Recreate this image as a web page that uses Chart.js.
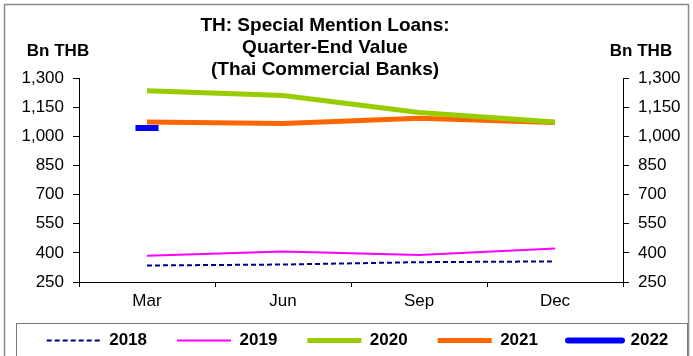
<!DOCTYPE html>
<html>
<head>
<meta charset="utf-8">
<script src="https://cdn.jsdelivr.net/npm/chart.js@4.4.0/dist/chart.umd.min.js"></script>
<style>
  html, body { margin: 0; padding: 0; background: #fff; }
  #wrap { position: relative; width: 693px; height: 356px; }
</style>
</head>
<body>
<div id="wrap"><canvas id="js--chartSml"></canvas></div>
<script>
// quarter-end values, Bn THB
const quarters = ['Mar', 'Jun', 'Sep', 'Dec'];
const y2018 = [335, 340, 352, 356];
const y2019 = [385, 407, 389, 423];
const y2020 = [1235, 1210, 1122, 1074];
const y2021 = [1074, 1066, 1093, 1071];
const y2022 = [1043, null, null, null];
const yTicks = [250, 400, 550, 700, 850, 1000, 1150, 1300];

const titleLines = ['TH: Special Mention Loans:', 'Quarter-End Value', '(Thai Commercial Banks)'];
const FONT = "'Liberation Sans', Arial, sans-serif";

// frame, title, unit labels and legend box
const decor = {
  id: 'decor',
  afterLayout(chart) {
    // nudge the legend row into its framed box
    const lg = chart.legend;
    const h = lg.bottom - lg.top;
    lg.top = 302;
    lg.bottom = 302 + h;
    lg.left = 11;
    lg.right = 704;
  },
  beforeDraw(chart) {
    const ctx = chart.ctx;
    ctx.save();
    ctx.fillStyle = '#fff';
    ctx.fillRect(0, 0, chart.width, chart.height);
    ctx.strokeStyle = '#8a8a8a';
    ctx.lineWidth = 1.5;
    ctx.strokeRect(4.5, 4.5, 684, 400);
    ctx.strokeStyle = '#777';
    ctx.lineWidth = 1;
    ctx.strokeRect(16.5, 323.5, 671, 60);
    ctx.restore();
  },
  afterDraw(chart) {
    const ctx = chart.ctx;
    ctx.save();
    ctx.fillStyle = '#000';
    ctx.textAlign = 'center';
    ctx.textBaseline = 'middle';
    ctx.font = 'bold 19px ' + FONT;
    titleLines.forEach((t, i) => ctx.fillText(t, 325, 26 + i * 22));
    ctx.font = 'bold 17px ' + FONT;
    ctx.fillText('Bn THB', 58, 51);
    ctx.fillText('Bn THB', 641, 51);
    ctx.restore();
  }
};

const axisTicks = {
  color: '#000',
  font: { family: FONT, size: 17 },
  padding: 9,
  autoSkip: false
};

const data = {
  labels: quarters,
  datasets: [
    { label: '2018', data: y2018, borderColor: '#000080', borderWidth: 2, borderDash: [5, 3] },
    { label: '2019', data: y2019, borderColor: '#ff00ff', borderWidth: 2 },
    { label: '2020', data: y2020, borderColor: '#99cc00', borderWidth: 5 },
    { label: '2021', data: y2021, borderColor: '#ff6600', borderWidth: 5 },
    { label: '2022', data: y2022, borderColor: '#0000ff', borderWidth: 6,
      pointRadius: 11.5, pointStyle: 'line', pointBorderWidth: 6, pointBorderColor: '#0000ff' }
  ]
};

const config = {
  type: 'line',
  data: data,
  options: {
    responsive: false,
    animation: false,
    devicePixelRatio: 1,
    layout: { padding: { left: 0, right: 0, top: 78, bottom: -13 } },
    elements: {
      line: { tension: 0, borderCapStyle: 'butt', fill: false },
      point: { radius: 0, hoverRadius: 0 }
    },
    plugins: {
      title: { display: false },
      tooltip: { enabled: false },
      legend: {
        position: 'bottom',
        labels: {
          usePointStyle: true,
          pointStyleWidth: 54,
          padding: 30,
          color: '#000',
          font: { family: FONT, size: 17, weight: 'bold' },
          generateLabels(chart) {
            return chart.data.datasets.map((ds, i) => ({
              text: ds.label,
              datasetIndex: i,
              pointStyle: 'line',
              strokeStyle: ds.borderColor,
              fillStyle: ds.borderColor,
              lineWidth: ds.borderWidth,
              lineDash: ds.borderDash || [],
              lineCap: i === 4 ? 'round' : 'butt',
              fontColor: '#000'
            }));
          }
        }
      }
    },
    scales: {
      x: {
        offset: true,
        grid: { offset: true, drawOnChartArea: false, color: '#000', tickLength: 5 },
        border: { color: '#000' },
        ticks: { ...axisTicks, padding: 4, maxRotation: 0 },
        afterFit(scale) { scale.height = 30; }
      },
      y: {
        position: 'left',
        min: 250,
        max: 1300,
        afterBuildTicks(scale) { scale.ticks = yTicks.map(v => ({ value: v })); },
        grid: { drawOnChartArea: false, color: '#000', tickLength: 6 },
        border: { color: '#000' },
        ticks: { ...axisTicks, callback: v => v.toLocaleString('en-US') },
        afterFit(scale) { scale.width = 79; }
      },
      y2: {
        position: 'right',
        min: 250,
        max: 1300,
        afterBuildTicks(scale) { scale.ticks = yTicks.map(v => ({ value: v })); },
        grid: { drawOnChartArea: false, color: '#000', tickLength: 6 },
        border: { color: '#000' },
        ticks: { ...axisTicks, callback: v => v.toLocaleString('en-US') },
        afterFit(scale) { scale.width = 70; }
      }
    }
  },
  plugins: [decor]
};

const canvas = document.getElementById('js--chartSml');
canvas.width = 693;
canvas.height = 356;
const chartSml = new Chart(canvas, config);
</script>
</body>
</html>
